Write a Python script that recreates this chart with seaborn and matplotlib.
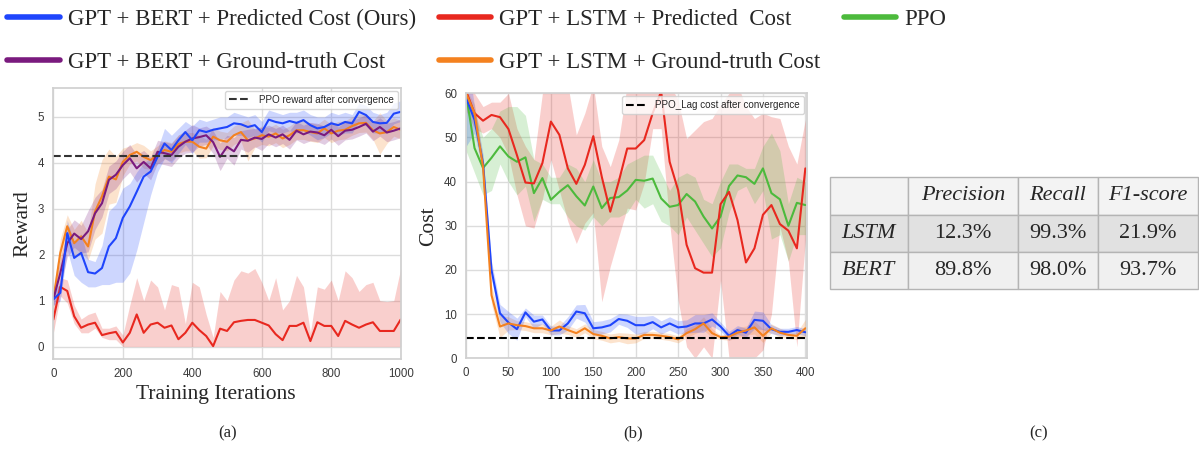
import numpy as np
import matplotlib
matplotlib.use("Agg")
import matplotlib.pyplot as plt
from matplotlib.lines import Line2D
import seaborn as sns

# ---------------- data ----------------
reward_iters = list(range(0, 1001, 20))

reward_blue = [1.03, 1.17, 2.47, 1.93, 2.04, 1.62, 1.59, 1.71, 2.18, 2.36,
               2.80, 3.05, 3.37, 3.70, 3.81, 4.13, 4.42, 4.28, 4.49, 4.67,
               4.49, 4.71, 4.67, 4.72, 4.75, 4.78, 4.86, 4.84, 4.78, 4.82,
               4.67, 4.94, 4.89, 4.86, 4.91, 4.87, 4.93, 4.82, 4.75, 4.78,
               4.86, 4.82, 4.89, 4.86, 5.11, 5.04, 4.89, 4.86, 4.87, 5.07, 5.11]
reward_blue_lo = [0.9, 1.0, 2.1, 1.55, 1.4, 1.3, 1.3, 1.35, 1.35, 1.4,
                  1.4, 1.6, 2.1, 2.7, 3.3, 3.8, 4.1, 4.0, 4.2, 4.4,
                  4.2, 4.45, 4.45, 4.5, 4.5, 4.55, 4.6, 4.6, 4.55, 4.6,
                  4.45, 4.7, 4.65, 4.65, 4.7, 4.65, 4.7, 4.6, 4.5, 4.55,
                  4.65, 4.6, 4.65, 4.65, 4.9, 4.8, 4.65, 4.65, 4.65, 4.85, 4.9]
reward_blue_hi = [1.15, 1.4, 2.75, 2.25, 2.45, 1.9, 1.85, 2.2, 2.95, 3.1,
                  3.45, 3.55, 3.8, 4.0, 4.1, 4.3, 4.75, 4.6, 4.75, 4.9,
                  4.8, 4.95, 4.9, 4.95, 5.0, 5.0, 5.1, 5.05, 5.0, 5.05,
                  4.9, 5.15, 5.1, 5.05, 5.1, 5.1, 5.15, 5.05, 5.0, 5.0,
                  5.1, 5.05, 5.1, 5.05, 5.3, 5.25, 5.1, 5.05, 5.1, 5.3, 5.35]

reward_purple = [1.03, 1.60, 2.25, 2.46, 2.34, 2.51, 2.90, 3.12, 3.63, 3.74,
                 3.95, 4.10, 3.88, 4.02, 3.88, 4.24, 4.21, 4.17, 4.35, 4.46,
                 4.53, 4.56, 4.60, 4.45, 4.13, 4.35, 4.25, 4.50, 4.48, 4.55,
                 4.52, 4.62, 4.55, 4.62, 4.50, 4.70, 4.62, 4.68, 4.66, 4.60,
                 4.72, 4.58, 4.70, 4.72, 4.78, 4.85, 4.68, 4.78, 4.66, 4.70, 4.75]
reward_purple_sd = [0.15, 0.3, 0.3, 0.3, 0.3, 0.45, 0.35, 0.3, 0.3, 0.3,
                    0.3, 0.3, 0.3, 0.25, 0.25, 0.25, 0.25, 0.25, 0.25, 0.25,
                    0.3, 0.2, 0.2, 0.25, 0.3, 0.25, 0.3, 0.2, 0.25, 0.2,
                    0.25, 0.2, 0.2, 0.2, 0.2, 0.2, 0.2, 0.2, 0.2, 0.2,
                    0.2, 0.2, 0.2, 0.2, 0.2, 0.2, 0.2, 0.2, 0.2, 0.2, 0.2]

reward_orange = [1.03, 2.04, 2.62, 2.25, 2.40, 2.18, 2.94, 3.27, 3.70, 3.64,
                 4.02, 4.17, 4.24, 4.13, 4.06, 4.17, 4.28, 4.24, 4.41, 4.46,
                 4.46, 4.35, 4.31, 4.57, 4.49, 4.46, 4.60, 4.67, 4.49, 4.53,
                 4.60, 4.57, 4.64, 4.53, 4.60, 4.71, 4.71, 4.67, 4.64, 4.75,
                 4.64, 4.70, 4.72, 4.80, 4.86, 4.87, 4.71, 4.64, 4.67, 4.78, 4.72]
reward_orange_sd = [0.15, 0.3, 0.25, 0.3, 0.35, 0.3, 0.6, 0.8, 0.6, 0.5,
                    0.3, 0.2, 0.2, 0.25, 0.2, 0.2, 0.2, 0.2, 0.2, 0.2,
                    0.2, 0.25, 0.2, 0.2, 0.2, 0.2, 0.2, 0.2, 0.45, 0.2,
                    0.2, 0.2, 0.2, 0.2, 0.2, 0.2, 0.2, 0.2, 0.2, 0.2,
                    0.2, 0.2, 0.2, 0.2, 0.2, 0.2, 0.2, 0.45, 0.25, 0.2, 0.2]

reward_red = [0.59, 1.30, 1.21, 0.66, 0.41, 0.48, 0.52, 0.25, 0.29, 0.32,
              0.09, 0.30, 0.70, 0.30, 0.48, 0.52, 0.41, 0.46, 0.16, 0.30,
              0.52, 0.36, 0.23, 0.01, 0.39, 0.34, 0.53, 0.56, 0.58, 0.58,
              0.52, 0.46, 0.27, 0.14, 0.45, 0.45, 0.52, 0.12, 0.53, 0.45,
              0.45, 0.23, 0.56, 0.48, 0.41, 0.48, 0.53, 0.34, 0.34, 0.34, 0.59]
reward_red_lo = [0.3, 1.1, 0.95, 0.5, 0.3, 0.3, 0.4, 0.2, 0.15, 0.15,
                 0.0, 0.0, 0.0, 0.0, 0.0, 0.0, 0.0, 0.0, 0.0, 0.0,
                 0.0, 0.0, 0.0, 0.0, 0.0, 0.0, 0.0, 0.0, 0.0, 0.0,
                 0.0, 0.0, 0.0, 0.0, 0.0, 0.0, 0.0, 0.0, 0.0, 0.0,
                 0.0, 0.0, 0.0, 0.0, 0.0, 0.0, 0.0, 0.0, 0.0, 0.0, 0.0]
reward_red_hi = [0.9, 1.5, 1.45, 0.9, 0.6, 0.7, 0.75, 0.4, 0.4, 0.45,
                 0.25, 0.9, 1.5, 1.0, 1.45, 1.3, 0.8, 1.35, 1.3, 0.5,
                 1.4, 1.3, 0.7, 0.2, 1.2, 1.0, 1.45, 1.65, 1.6, 1.7,
                 1.4, 1.0, 1.5, 0.8, 1.0, 1.55, 1.3, 0.3, 1.3, 1.25,
                 1.45, 1.0, 1.65, 1.5, 1.2, 1.35, 1.4, 1.0, 0.98, 1.0, 1.7]
ppo_reward = 4.15

cost_iters = list(range(0, 401, 10))

cost_red = [60.5, 55.5, 53.8, 55.1, 54.6, 51.9, 46.0, 39.8, 39.6, 44.2,
            53.6, 50.6, 43.0, 39.5, 43.8, 50.3, 41.1, 33.2, 40.0, 47.5,
            47.5, 49.4, 55.5, 60.4, 44.5, 38.1, 25.7, 20.4, 19.4, 19.4,
            34.9, 37.7, 31.3, 21.7, 24.9, 32.5, 34.7, 30.4, 28.9, 24.9, 43.0]
cost_red_lo = [56, 52, 51, 52, 50, 46, 37, 30, 29.5, 36,
               45, 38, 31, 26, 30.6, 33, 12.8, 20.8, 27.5, 34,
               33.6, 39.6, 52, 52, 30.6, 13.2, 2.6, 0, 2.6, 0,
               17.7, 0, 0, 0, 0, 1.9, 10, 29.8, 21.9, 2.6, 26.8]
cost_red_hi = [62, 60, 57, 58, 58, 60, 52, 48, 45, 60,
               62, 62, 62, 50.6, 55.5, 62, 48, 43.4, 49.4, 62,
               62, 62, 62, 62, 62, 58.5, 49.8, 51.7, 53.6, 54.3,
               57.4, 60, 62, 57, 54.3, 55.5, 54.7, 54.3, 48, 44, 54.1]

cost_green = [59.9, 47.6, 43.1, 45.4, 48.0, 45.7, 44.5, 45.5, 37.4, 40.8,
              35.9, 37.7, 39.2, 36.7, 34.6, 38.9, 34.0, 36.3, 36.5, 38.0,
              40.4, 40.2, 40.7, 36.2, 34.3, 34.7, 37.2, 35.5, 32.1, 29.4,
              32.1, 39.0, 41.4, 41.0, 39.5, 43.0, 37.4, 36.0, 30.0, 35.2, 34.7]
cost_green_lo = [47, 42, 37, 38, 44, 40, 37, 39, 31, 36,
                 35, 35, 32, 30, 29, 32, 30, 32, 32, 33,
                 36, 34, 35, 31, 30, 28, 32, 29, 26, 23,
                 25, 33, 38, 39, 35, 38, 27, 28, 22, 28, 28]
cost_green_hi = [60, 56, 50, 52, 56, 57, 57, 55, 45, 44,
                 41, 41, 44, 43, 40, 45, 40, 40, 41, 44,
                 45, 46, 46, 42, 38, 41, 42, 41, 36, 35,
                 40, 44, 44, 43, 43, 48, 51, 47, 35, 41, 40]

cost_blue = [59.0, 54.0, 44.2, 20.0, 10.2, 8.1, 6.6, 10.4, 8.3, 8.8,
             6.3, 6.3, 7.9, 10.6, 10.2, 6.8, 7.0, 7.5, 8.9, 8.5,
             7.5, 7.5, 8.2, 7.0, 7.9, 7.0, 7.2, 7.9, 7.9, 8.8,
             7.2, 5.1, 6.4, 5.8, 8.7, 8.5, 6.6, 6.0, 6.0, 6.4, 5.9]
cost_blue_sd = [11, 3, 2, 2, 2, 2.5, 2.5, 1, 1.5, 1,
                1, 1, 1.5, 1.5, 2, 1.5, 1.5, 1.5, 1.2, 1.5,
                2, 2, 1.5, 1.5, 1.5, 1.5, 1.5, 2, 2, 1.5,
                1, 1, 1, 1, 2, 2, 1, 0.8, 0.8, 0.8, 0.8]

cost_orange = [60.0, 55.5, 43.4, 14.3, 7.2, 7.9, 7.5, 7.3, 6.8, 6.8,
               6.3, 7.2, 6.4, 5.7, 6.8, 5.5, 5.1, 4.5, 4.8, 4.5,
               4.5, 5.3, 5.3, 5.1, 4.8, 4.3, 5.7, 6.6, 7.9, 5.7,
               4.8, 4.9, 5.8, 6.3, 7.0, 5.1, 6.8, 5.8, 5.3, 5.1, 6.8]
cost_orange_sd = [1, 2, 2, 2, 2.5, 1.5, 1, 1, 1, 1,
                  1, 1.5, 1, 1, 1, 1, 1, 1, 1, 1.2,
                  1, 0.8, 0.8, 0.8, 0.8, 0.8, 1, 1, 1.5, 1,
                  0.5, 0.8, 1.2, 1, 1.5, 1.5, 1, 1, 0.8, 0.8, 2]
ppo_lag_cost = 4.5

series_names = ["GPT + BERT + Predicted Cost (Ours)",
                "GPT + BERT + Ground-truth Cost",
                "GPT + LSTM + Predicted  Cost",
                "GPT + LSTM + Ground-truth Cost",
                "PPO"]

table_cols = ["", "Precision", "Recall", "F1-score"]
table_rows = ["LSTM", "BERT"]
precision = ["12.3%", "89.8%"]
recall = ["99.3%", "98.0%"]
f1_score = ["21.9%", "93.7%"]

# ---------------- style ----------------
BLUE = "#1f45fc"
PURPLE = "#7a1a7e"
RED = "#e8281f"
ORANGE = "#f4811f"
GREEN = "#4cba3c"
SERIF = "Liberation Serif"
SANS = "Liberation Sans"

sns.set_theme(style="whitegrid", rc={"grid.color": "#dcdcdc", "axes.edgecolor": "#d0d0d0"})

fig = plt.figure(figsize=(11.99, 4.51), dpi=100)
ax_a = fig.add_axes([0.0445, 0.204, 0.2897, 0.601])
ax_b = fig.add_axes([0.3887, 0.2055, 0.2844, 0.5876])
ax_c = fig.add_axes([0.6922, 0.3585, 0.307, 0.2484])


def band(ax, x, lo, hi, color):
    ax.fill_between(x, lo, hi, color=color, alpha=0.22, linewidth=0)


# ---- (a) reward ----
x = np.array(reward_iters)
band(ax_a, x, reward_red_lo, reward_red_hi, RED)
band(ax_a, x, np.array(reward_orange) - reward_orange_sd,
     np.array(reward_orange) + reward_orange_sd, ORANGE)
band(ax_a, x, np.array(reward_purple) - reward_purple_sd,
     np.array(reward_purple) + reward_purple_sd, PURPLE)
band(ax_a, x, reward_blue_lo, reward_blue_hi, BLUE)
sns.lineplot(x=x, y=reward_red, ax=ax_a, color=RED, linewidth=1.5, errorbar=None)
sns.lineplot(x=x, y=reward_orange, ax=ax_a, color=ORANGE, linewidth=1.5, errorbar=None)
sns.lineplot(x=x, y=reward_purple, ax=ax_a, color=PURPLE, linewidth=1.5, errorbar=None)
sns.lineplot(x=x, y=reward_blue, ax=ax_a, color=BLUE, linewidth=1.5, errorbar=None)
ax_a.axhline(ppo_reward, ls="--", color="#333333", lw=1.5,
             label="PPO reward after convergence")
ax_a.set_xlim(0, 1000)
ax_a.set_ylim(-0.27, 5.63)
ax_a.set_xticks(range(0, 1001, 200))
ax_a.set_yticks(range(0, 6))
ax_a.set_xlabel("Training Iterations", fontfamily=SERIF, fontsize=15.5)
ax_a.set_ylabel("Reward", fontfamily=SERIF, fontsize=15.5)
ax_a.xaxis.set_label_coords(0.468, -0.097)
ax_a.legend(loc="upper right", prop={"family": SANS, "size": 7.1},
            borderaxespad=0.3, handlelength=2.2)

# ---- (b) cost ----
x = np.array(cost_iters)
band(ax_b, x, cost_red_lo, cost_red_hi, RED)
band(ax_b, x, cost_green_lo, cost_green_hi, GREEN)
band(ax_b, x, np.array(cost_orange) - cost_orange_sd,
     np.array(cost_orange) + cost_orange_sd, ORANGE)
band(ax_b, x, np.array(cost_blue) - cost_blue_sd,
     np.array(cost_blue) + cost_blue_sd, BLUE)
sns.lineplot(x=x, y=cost_green, ax=ax_b, color=GREEN, linewidth=1.5, errorbar=None)
sns.lineplot(x=x, y=cost_red, ax=ax_b, color=RED, linewidth=1.5, errorbar=None)
sns.lineplot(x=x, y=cost_blue, ax=ax_b, color=BLUE, linewidth=1.5, errorbar=None)
sns.lineplot(x=x, y=cost_orange, ax=ax_b, color=ORANGE, linewidth=1.5, errorbar=None)
ax_b.axhline(ppo_lag_cost, ls="--", color="black", lw=1.5,
             label="PPO_Lag cost after convergence")
ax_b.set_xlim(0, 402)
ax_b.set_ylim(0, 60)
ax_b.set_xticks(range(0, 401, 50))
ax_b.set_yticks(range(0, 61, 10))
ax_b.set_xlabel("Training Iterations", fontfamily=SERIF, fontsize=15.5)
ax_b.set_ylabel("Cost", fontfamily=SERIF, fontsize=15.5)
ax_b.xaxis.set_label_coords(0.466, -0.1)
ax_b.legend(loc="upper right", prop={"family": SANS, "size": 7.1},
            borderaxespad=0.3, handlelength=2.2)

for ax in (ax_a, ax_b):
    for lab in ax.get_xticklabels() + ax.get_yticklabels():
        lab.set_fontfamily(SANS)
        lab.set_fontsize(8.3)
        lab.set_color("#3a3a3a")
    ax.tick_params(pad=0.5)

# ---- (c) table ----
ax_c.axis("off")
cell_text = [table_cols] + [[r, p, rc, f] for r, p, rc, f in
                            zip(table_rows, precision, recall, f1_score)]
row_bg = ["#f3f3f3", "#e1e1e1", "#f0f0f0"]
cell_colours = [[c] * 4 for c in row_bg]
tbl = ax_c.table(cellText=cell_text, cellColours=cell_colours, cellLoc="center",
                 bbox=[0, 0, 1, 1], colWidths=[0.211, 0.300, 0.217, 0.272])
tbl.auto_set_font_size(False)
for (r, c), cell in tbl.get_celld().items():
    cell.set_edgecolor("#b4b4b4")
    cell.set_linewidth(1.0)
    t = cell.get_text()
    t.set_fontfamily(SERIF)
    t.set_fontsize(16)
    if r == 0 or c == 0:
        t.set_fontstyle("italic")

# ---- panel captions ----
for xc, lab in [(0.19, "(a)"), (0.528, "(b)"), (0.866, "(c)")]:
    fig.text(xc, 0.04, lab, ha="center", va="center", fontfamily=SERIF, fontsize=12)

# ---- shared legend ----
handles = [Line2D([], [], color=c, lw=4) for c in (BLUE, PURPLE, RED, ORANGE, GREEN)]
fig.legend(handles, series_names, loc="upper left", bbox_to_anchor=(-0.0115, 1.027),
           ncol=3, frameon=False, prop={"family": SERIF, "size": 16.5},
           handlelength=2.3, handletextpad=0.35, columnspacing=1.0,
           labelspacing=0.97)

fig.savefig("out.png", dpi=100)
